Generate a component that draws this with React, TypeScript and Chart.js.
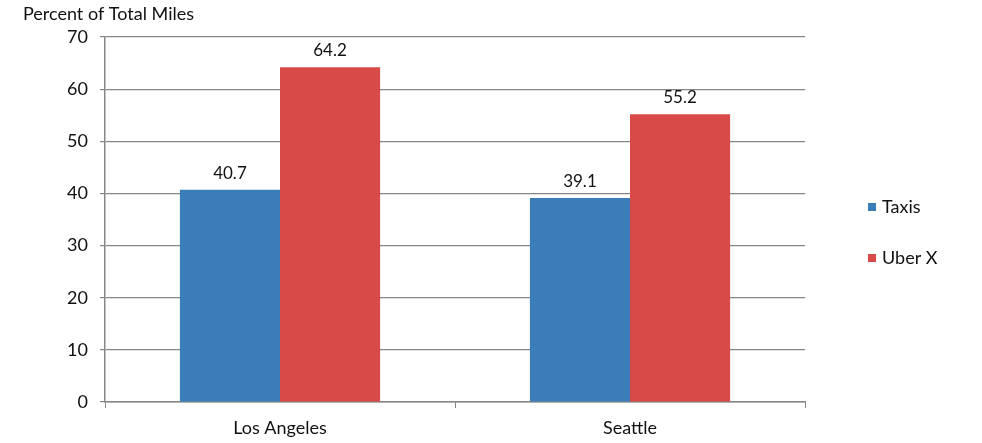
import React, { useEffect, useRef } from "react";
import { Chart, registerables } from "chart.js";

Chart.register(...registerables);

const categories = ["Los Angeles", "Seattle"];
const seriesNames = ["Taxis", "Uber X"];
const taxis = [40.7, 39.1];
const uberX = [64.2, 55.2];
const yTicks = [0, 10, 20, 30, 40, 50, 60, 70];
const axisTitle = "Percent of Total Miles";

const BLUE = "#3a7db8";
const RED = "#d84a47";
const GRID = "#868686";
const FONT = "Lato, 'Open Sans', sans-serif";

const labelPlugin = {
  id: "valueLabels",
  afterDatasetsDraw(chart: any) {
    const ctx = chart.ctx;
    ctx.save();
    ctx.font = `17px ${FONT}`;
    ctx.fillStyle = "#111";
    ctx.textAlign = "center";
    ctx.textBaseline = "bottom";
    chart.data.datasets.forEach((ds: any, i: number) => {
      const meta = chart.getDatasetMeta(i);
      meta.data.forEach((bar: any, j: number) => {
        ctx.fillText(ds.data[j].toFixed(1), bar.x, bar.y - 8);
      });
    });
    ctx.restore();
  },
};

const extrasPlugin = {
  id: "extras",
  afterDraw(chart: any) {
    const ctx = chart.ctx;
    ctx.save();
    ctx.font = `18px ${FONT}`;
    ctx.fillStyle = "#111";
    ctx.textAlign = "left";
    ctx.textBaseline = "middle";
    ctx.fillText(axisTitle, 23, 14);
    const legendX = 868;
    const ys = [207, 258];
    chart.data.datasets.forEach((ds: any, i: number) => {
      ctx.fillStyle = ds.backgroundColor;
      ctx.fillRect(legendX, ys[i] - 4, 8, 8);
      ctx.fillStyle = "#111";
      ctx.font = `18px ${FONT}`;
      ctx.fillText(ds.label, legendX + 14, ys[i]);
    });
    ctx.restore();
  },
};

export default function App() {
  const ref = useRef<HTMLCanvasElement | null>(null);
  useEffect(() => {
    if (!ref.current) return;
    const chart = new Chart(ref.current, {
      type: "bar",
      data: {
        labels: categories,
        datasets: [
          { label: seriesNames[0], data: taxis, backgroundColor: BLUE, categoryPercentage: 0.572, barPercentage: 1 },
          { label: seriesNames[1], data: uberX, backgroundColor: RED, categoryPercentage: 0.572, barPercentage: 1 },
        ],
      },
      options: {
        responsive: false,
        animation: false,
        layout: { padding: { top: 37, left: 0, right: 177, bottom: 0 } },
        plugins: { legend: { display: false }, tooltip: { enabled: false }, title: { display: false } },
        scales: {
          x: {
            grid: { display: true, drawOnChartArea: false, drawTicks: true, tickLength: 6, color: GRID, offset: true },
            border: { display: true, color: GRID, width: 1.5 },
            ticks: { color: "#111", font: { family: FONT, size: 18 }, padding: 9 },
            afterFit: (s: any) => { s.height = 41; },
          },
          y: {
            min: 0,
            max: 70,
            afterBuildTicks: (s: any) => { s.ticks = yTicks.map((v) => ({ value: v })); },
            grid: { color: GRID, lineWidth: 1.2, tickLength: 5 },
            border: { display: true, color: GRID, width: 1.5 },
            ticks: { color: "#111", font: { family: FONT, size: 18 }, padding: 12 },
            afterFit: (s: any) => { s.width = 105; },
          },
        },
      },
      plugins: [labelPlugin, extrasPlugin],
    });
    return () => chart.destroy();
  }, []);
  return (
    <div style={{ position: "fixed", left: 0, top: 0, width: 982, height: 443, background: "#fff" }}>
      <canvas ref={ref} width={982} height={443} style={{ width: 982, height: 443, display: "block" }} />
    </div>
  );
}
